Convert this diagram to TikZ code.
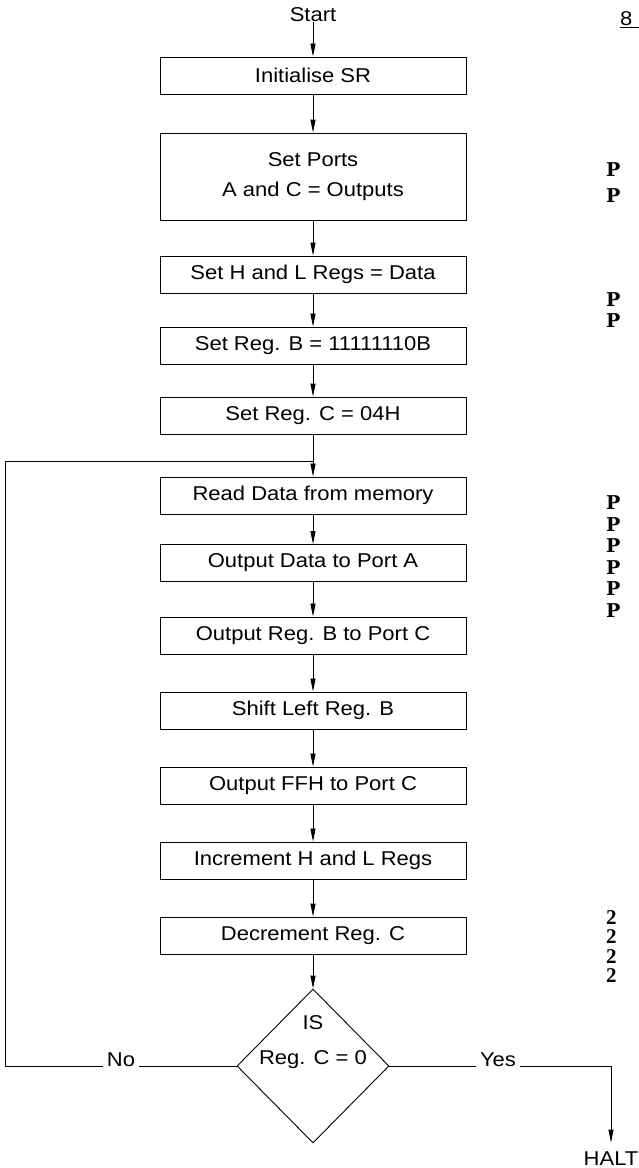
\documentclass[tikz,border=0pt]{standalone}
\usepackage{fontspec}
\setmainfont{Liberation Sans}[FakeStretch=1.1]
\newfontfamily\numfont{Liberation Serif}
\newfontfamily\codefont{DejaVu Serif}
\usetikzlibrary{shapes.geometric, arrows.meta}

\begin{document}
\begin{tikzpicture}[x=1pt, y=-1pt,
      every node/.style={font=\fontsize{20}{30}\selectfont},
      procbox/.style={draw, line width=0.9pt, minimum width=306pt,
        minimum height=37pt, inner sep=0pt, align=center},
      decision/.style={draw, diamond, line width=0.9pt, minimum width=152pt,
        minimum height=154pt, inner sep=0pt},
      flowline/.style={line width=0.8pt, -{Triangle[length=13pt,width=5pt]}},
      plainline/.style={line width=0.8pt},
      codechar/.style={font=\fontsize{19}{24}\codefont\bfseries, inner sep=0pt},
      numchar/.style={font=\fontsize{21}{24}\numfont\bfseries, inner sep=0pt}]
    \useasboundingbox (0,0) rectangle (639,1168);
    \node (start) at (313,15) {Start};
    \foreach \n/\yy/\hh/\txt in {1/75.5/37/{Initialise SR},
        2/176.5/87/{Set Ports\\A and C = Outputs},
        3/274.5/37/{Set H and L Regs = Data}, 4/345.5/37/{Set Reg. B = 11111110B},
        5/415.5/37/{Set Reg. C = 04H}, 6/495.5/37/{Read Data from memory},
        7/563/37/{Output Data to Port A}, 8/635.5/37/{Output Reg. B to Port C},
        9/710.5/37/{Shift Left Reg. B}, 10/785.5/37/{Output FFH to Port C},
        11/860.5/37/{Increment H and L Regs}, 12/935.5/37/{Decrement Reg. C}} {
      \node[procbox, minimum height=\hh pt] (box\n) at (313,\yy) {\txt};
    }
    \node[decision] (dec) at (313,1066) {};
    \node (isq) at (313,1023) {IS};
    \node (regq) at (313,1060) {Reg. C = 0};
    \node[anchor=base, inner sep=4pt] (nolab) at (121,1066) {No};
    \node[anchor=base, inner sep=4pt] (yeslab) at (498,1066) {Yes};
    \node (halt) at (611,1159) {HALT};
    \coordinate (join) at (313,461);
    \coordinate (lowleft) at (5,1066);

    \draw[flowline] (start.base) -- (box1);
    \foreach \a/\b in {1/2, 2/3, 3/4, 4/5, 5/6, 6/7, 7/8, 8/9, 9/10, 10/11, 11/12}
      \draw[flowline] (box\a) -- (box\b);
    \draw[flowline] (box12) -- (dec);
    \draw[plainline] (dec.west) -- (nolab.base east);
    \draw[plainline] (nolab.base west) -- (lowleft) |- (join);
    \draw[plainline] (dec.east) -- (yeslab.base west);
    \draw[flowline, shorten >=6pt] (yeslab.base east) -| (halt);

    \node[anchor=west, inner sep=0pt] (head) at (620,20) {\underline{8\phantom{00}}};
    \foreach \yy [count=\k] in {170, 196, 300, 321, 503, 525, 546, 568, 589, 611}
      \node[codechar, anchor=west] (code\k) at (606,\yy) {P};
    \foreach \yy [count=\k] in {918, 937, 957, 976}
      \node[numchar, anchor=west] (num\k) at (606,\yy) {2};
\end{tikzpicture}
\end{document}
